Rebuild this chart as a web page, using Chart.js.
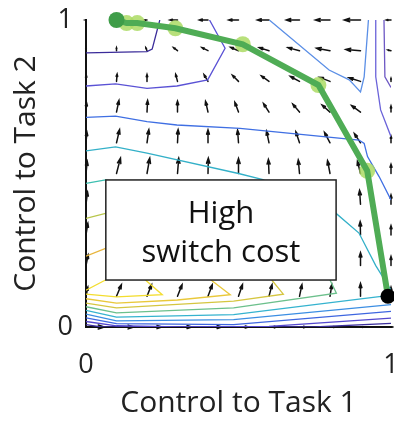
<!DOCTYPE html>
<html>
<head>
<meta charset="utf-8">
<script src="https://cdn.jsdelivr.net/npm/chart.js@4/dist/chart.umd.min.js"></script>
<style>
  html, body { margin: 0; padding: 0; background: #fff; }
  #chart { display: block; }
</style>
</head>
<body>
<canvas id="chart" width="394" height="421"></canvas>
<script>
// ---- tick labels
const xTicks = [0, 1];
const yTicks = [0, 1];

// ---- quiver field (rows: y = 0 .. 1, columns: x = 0 .. 1), vectors in hundredths
const gridX = [0, 0.1, 0.2, 0.3, 0.4, 0.5, 0.6, 0.7, 0.8, 0.9, 1];
const gridY = [0, 0.1, 0.2, 0.3, 0.4, 0.5, 0.6, 0.7, 0.8, 0.9, 1];
const quiverU = [
  [6.0, 5.7, 4.9, 4.7, 4.5, 3.3, 2.6, 2.0, 1.8, 1.2, 0.5],
  [0.6, 1.6, 1.5, 1.5, 1.4, 1.3, 1.0, 0.8, 0.6, 0.0, 0.0],
  [0.7, 1.6, 1.5, 1.4, 1.3, 1.1, 0.9, 0.6, 0.3, 0.0, 0.0],
  [0.6, 1.5, 1.4, 1.2, 1.0, 0.8, 0.5, 0.3, 0.0, -0.1, 0.0],
  [0.5, 1.4, 1.1, 0.7, 0.4, 0.2, 0.0, -0.2, -0.4, -0.3, 0.0],
  [0.4, 1.3, 0.9, 0.4, 0.1, 0.0, -0.2, -0.4, -0.8, -1.0, 0.0],
  [0.3, 1.0, 0.6, 0.2, 0.0, -0.3, -0.8, -1.2, -1.8, -2.0, 0.0],
  [0.2, 0.8, 0.2, 0.0, -0.8, -1.2, -1.8, -2.2, -2.6, -2.9, 0.0],
  [0.1, 0.2, 0.0, -0.6, -1.3, -2.0, -2.5, -3.0, -3.4, -3.8, 0.0],
  [0.0, 0.0, -0.4, -1.3, -2.0, -2.6, -3.2, -3.8, -4.4, -4.8, -1.0],
  [-0.3, -0.5, -0.8, -2.5, -2.8, -3.2, -3.8, -4.3, -4.8, -5.3, -1.5]
];
const quiverV = [
  [0, 0, 0, 0, 0, 0, 0, 0, 0, 0, 0],
  [3.0, 3.8, 3.8, 3.8, 3.8, 3.8, 3.8, 3.8, 3.8, 4.2, 3.0],
  [3.5, 4.5, 4.5, 4.5, 4.5, 4.5, 4.4, 4.3, 4.2, 4.2, 3.0],
  [3.8, 4.8, 4.8, 4.8, 4.8, 4.7, 4.6, 4.5, 4.4, 4.3, 3.0],
  [4.0, 5.0, 5.0, 5.0, 5.0, 4.9, 4.8, 4.6, 4.5, 4.5, 3.0],
  [4.0, 5.0, 5.0, 5.0, 5.0, 4.9, 4.6, 4.4, 4.2, 4.0, 3.0],
  [3.5, 4.3, 4.3, 4.3, 4.2, 4.1, 3.8, 3.6, 3.4, 3.0, 2.2],
  [3.0, 3.8, 3.8, 3.6, 3.5, 3.2, 2.8, 2.6, 2.3, 2.1, 2.0],
  [2.0, 2.4, 2.3, 2.3, 2.2, 2.0, 1.8, 1.6, 1.3, 1.2, 1.0],
  [1.0, 1.0, 1.0, 1.0, 1.0, 1.1, 1.0, 1.0, 0.8, 0.4, 0.2],
  [0, 0, 0, 0, 0, 0, 0, 0, 0, 0, 0]
];

// ---- optimal control trajectory
const pathX = [0.1, 0.133, 0.168, 0.293, 0.514, 0.762, 0.922, 0.99];
const pathY = [1.0, 0.99, 0.99, 0.973, 0.921, 0.788, 0.509, 0.1];

// ---- contour lines [x, y]
const contourA = [[0, 0.893], [0.2, 0.897], [0.217, 0.905], [0.242, 1.0]];
const contourB = [[0, 0.785], [0.097, 0.792], [0.2, 0.777], [0.298, 0.785], [0.399, 0.805], [0.456, 0.908], [0.405, 1.0]];
const contourC = [[0, 0.683], [0.097, 0.687], [0.2, 0.669], [0.298, 0.658], [0.505, 0.647], [0.895, 0.609], [0.912, 0.598], [0.923, 0.555], [0.961, 0.49], [1.0, 0.414]];
const contourD = [[0, 0.574], [0.097, 0.587], [0.2, 0.566], [0.5, 0.5], [0.58, 0.48], [0.7, 0.42], [0.82, 0.37], [0.895, 0.306], [0.95, 0.2], [1.0, 0.12]];
const contourE = [[0.601, 1.0], [0.797, 0.837], [0.863, 0.805], [0.9, 0.766], [0.912, 0.815], [0.926, 1.0]];
const contourF = [[0.95, 1.0], [0.95, 0.815], [0.966, 0.707], [1.0, 0.62]];
const contourG = [[0.977, 1.0], [0.98, 0.815], [1.0, 0.78]];
const contourH = [[0, 0.468], [0.064, 0.479], [0.15, 0.46]];
const contourI = [[0, 0.354], [0.064, 0.37], [0.15, 0.36]];
const contourJ = [[0, 0.231], [0.064, 0.256], [0.15, 0.26]];
const contourK1a = [[0, 0.12], [0.064, 0.153]];
const contourK1 = [[0, 0.107], [0.1, 0.098], [0.25, 0.105], [0.195, 0.153]];
const contourK2 = [[0, 0.092], [0.1, 0.078], [0.3, 0.088], [0.473, 0.105], [0.41, 0.153]];
const contourK3 = [[0, 0.078], [0.1, 0.062], [0.484, 0.084], [0.647, 0.107], [0.609, 0.153]];
const contourK4 = [[0, 0.066], [0.1, 0.046], [0.484, 0.062], [0.821, 0.11], [0.8, 0.153]];
const contourK5 = [[0, 0.054], [0.1, 0.032], [0.484, 0.04], [0.968, 0.1], [1.0, 0.105]];
const contourK6 = [[0, 0.042], [0.1, 0.02], [0.484, 0.024], [1.0, 0.073]];
const contourK7 = [[0, 0.03], [0.1, 0.011], [0.484, 0.0075], [1.0, 0.051]];
const contourK8 = [[0, 0.018], [0.1, 0.004], [0.3, 0.0], [0.6, 0.002], [1.0, 0.029]];
const contourK9 = [[0, 0.008], [0.05, 0.0], [0.75, 0.0], [1.0, 0.012]];

const contours = [
  [contourA, '#3b2c9a'], [contourB, '#5a52d5'], [contourC, '#3f6fe3'], [contourD, '#33b0c8'],
  [contourE, '#5b8fe6'], [contourF, '#6b63d9'], [contourG, '#6d58c4'],
  [contourH, '#3cbfb0'], [contourI, '#b8c64a'], [contourJ, '#e8b53c'],
  [contourK1a, '#f3dd2e'], [contourK1, '#f3dd2e'], [contourK2, '#e9c83a'], [contourK3, '#d5c640'],
  [contourK4, '#6cc08c'], [contourK5, '#35b3cf'], [contourK6, '#3b8ee3'], [contourK7, '#3e66e0'],
  [contourK8, '#5448cf'], [contourK9, '#3c2f9d']
];

const labelText = ['High', 'switch cost'];
const FONT = '"Open Sans", Lato, sans-serif';

const toXY = pts => pts.map(p => ({ x: p[0], y: p[1] }));
const pathPts = pathX.map((x, i) => ({ x: x, y: pathY[i] }));

const datasets = contours.map(([pts, color]) => ({
  data: toXY(pts),
  showLine: true,
  borderColor: color,
  borderWidth: 1.3,
  pointRadius: 0,
  order: 10
}));

datasets.push({
  data: pathPts.slice(1, -1),
  showLine: false,
  pointRadius: 8,
  pointBorderWidth: 0,
  pointBackgroundColor: 'rgba(172, 218, 100, 0.85)',
  clip: false,
  order: 5
});
datasets.push({
  data: pathPts,
  showLine: true,
  borderColor: '#4fac55',
  borderWidth: 6,
  pointRadius: 0,
  clip: false,
  order: 4
});
datasets.push({
  data: pathPts.slice(0, 1),
  pointRadius: 8,
  pointBorderWidth: 0,
  pointBackgroundColor: '#3f9d49',
  clip: false,
  order: 2
});
datasets.push({
  data: pathPts.slice(-1),
  pointRadius: 7.5,
  pointBorderWidth: 0,
  pointBackgroundColor: '#000',
  clip: false,
  order: 1
});

// MATLAB style quiver arrows, tail at grid point
const quiverPlugin = {
  id: 'quiver',
  beforeDatasetsDraw(chart) {
    const { ctx, scales: { x, y } } = chart;
    ctx.save();
    ctx.strokeStyle = '#111';
    ctx.lineWidth = 1.5;
    ctx.lineCap = 'round';
    gridY.forEach((gy, r) => {
      gridX.forEach((gx, c) => {
        const u = quiverU[r][c] / 100, v = quiverV[r][c] / 100;
        const x0 = x.getPixelForValue(gx), y0 = y.getPixelForValue(gy);
        const x1 = x.getPixelForValue(gx + u), y1 = y.getPixelForValue(gy + v);
        const dx = x1 - x0, dy = y1 - y0;
        if (Math.hypot(dx, dy) < 0.5) return;
        const a = 0.33, b = 0.33;
        ctx.beginPath();
        ctx.moveTo(x0, y0);
        ctx.lineTo(x1, y1);
        ctx.moveTo(x1 - a * (dx + b * dy), y1 - a * (dy - b * dx));
        ctx.lineTo(x1, y1);
        ctx.lineTo(x1 - a * (dx - b * dy), y1 - a * (dy + b * dx));
        ctx.stroke();
      });
    });
    ctx.restore();
  }
};

// text box on top of the field
const boxPlugin = {
  id: 'labelBox',
  afterDatasetsDraw(chart) {
    const { ctx, scales: { x, y } } = chart;
    const left = x.getPixelForValue(0.065), right = x.getPixelForValue(0.82);
    const top = y.getPixelForValue(0.479), bottom = y.getPixelForValue(0.153);
    ctx.save();
    ctx.fillStyle = '#fff';
    ctx.fillRect(left, top, right - left, bottom - top);
    ctx.strokeStyle = '#222';
    ctx.lineWidth = 1.5;
    ctx.strokeRect(left, top, right - left, bottom - top);
    ctx.fillStyle = '#111';
    ctx.font = '31px ' + FONT;
    ctx.textAlign = 'center';
    ctx.textBaseline = 'middle';
    const cx = (left + right) / 2;
    ctx.fillText(labelText[0], cx, top + 34);
    ctx.fillText(labelText[1], cx, top + 73);
    ctx.restore();
  }
};

new Chart(document.getElementById('chart'), {
  type: 'scatter',
  data: { datasets: datasets },
  options: {
    responsive: false,
    animation: false,
    devicePixelRatio: 1,
    layout: { autoPadding: false, padding: { top: 20, right: 3, left: 0, bottom: 0 } },
    plugins: { legend: { display: false }, tooltip: { enabled: false } },
    scales: {
      x: {
        type: 'linear', min: 0, max: 1,
        afterBuildTicks: s => { s.ticks = xTicks.map(v => ({ value: v })); },
        afterFit: s => { s.height = 94; s.paddingLeft = 0; s.paddingRight = 0; },
        grid: { display: false, drawTicks: false },
        border: { display: true, color: '#111', width: 2 },
        ticks: { padding: 22, color: '#222', font: { family: FONT, size: 27 }, maxRotation: 0 },
        title: { display: true, text: 'Control to Task 1', color: '#222', font: { family: FONT, size: 30 }, padding: { top: 0, bottom: 0 } }
      },
      y: {
        type: 'linear', min: 0, max: 1,
        afterBuildTicks: s => { s.ticks = yTicks.map(v => ({ value: v })); },
        afterFit: s => { s.width = 86; s.paddingTop = 0; s.paddingBottom = 0; },
        grid: { display: false, drawTicks: false },
        border: { display: true, color: '#111', width: 2 },
        ticks: { padding: 13, color: '#222', font: { family: FONT, size: 27 } },
        title: { display: true, text: 'Control to Task 2', color: '#222', font: { family: FONT, size: 30 }, padding: { top: 8, bottom: 0 } }
      }
    }
  },
  plugins: [quiverPlugin, boxPlugin]
});
</script>
</body>
</html>
